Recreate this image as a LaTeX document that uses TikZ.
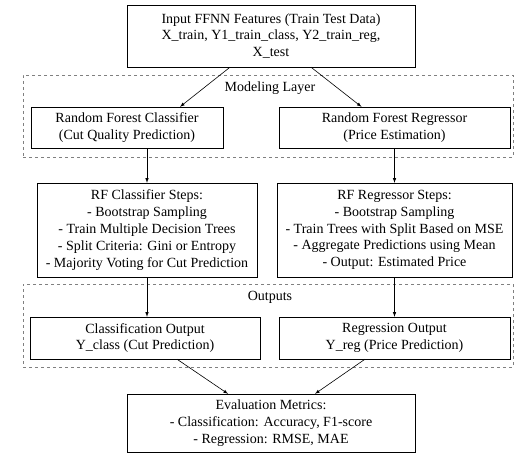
\documentclass[tikz,border=0pt]{standalone}
\usepackage{fontspec}
\setmainfont{Liberation Serif}
\usepackage{tikz}

\begin{document}
\begin{tikzpicture}[
        x=1pt, y=-1pt,
        box/.style={draw, rectangle, align=center, inner sep=0pt, font=\fontsize{14}{16.8}\selectfont},
        cluster/.style={draw, dashed, gray, rectangle, inner sep=0pt},
        lbl/.style={font=\fontsize{14}{16.8}\selectfont, inner sep=0pt},
        arrow/.style={-latex, semithick}
    ]
        \useasboundingbox (0,0) rectangle (518,454);

        % clusters
        \node[cluster, minimum width=490pt, minimum height=82pt] (modeling) at (268,116) {};
        \node[lbl] (modlabel) at (270,88) {Modeling Layer};
        \node[cluster, minimum width=490pt, minimum height=83pt] (outputs) at (268,325.5) {};
        \node[lbl] (outlabel) at (270,297) {Outputs};

        \node[box, minimum width=288pt, minimum height=62pt] (input) at (271,36)
            {Input FFNN Features (Train Test Data)\\X\_train, Y1\_train\_class, Y2\_train\_reg,\\X\_test};

        \node[box, minimum width=192pt, minimum height=41pt] (clf) at (127,127.5)
            {Random Forest Classifier\\(Cut Quality Prediction)};
        \node[box, minimum width=231pt, minimum height=41pt] (reg) at (394.5,127.5)
            {Random Forest Regressor\\(Price Estimation)};

        \node[box, minimum width=220pt, minimum height=94pt] (clsteps) at (147,230)
            {RF Classifier Steps:\\- Bootstrap Sampling\\- Train Multiple Decision Trees\\- Split Criteria: Gini or Entropy\\- Majority Voting for Cut Prediction};
        \node[box, minimum width=235pt, minimum height=94pt] (rgsteps) at (394.5,230)
            {RF Regressor Steps:\\- Bootstrap Sampling\\- Train Trees with Split Based on MSE\\- Aggregate Predictions using Mean\\- Output: Estimated Price};

        \node[box, minimum width=230pt, minimum height=42pt] (clout) at (145,338)
            {Classification Output\\Y\_class (Cut Prediction)};
        \node[box, minimum width=231pt, minimum height=42pt] (rgout) at (394.5,338)
            {Regression Output\\Y\_reg (Price Prediction)};

        \node[box, minimum width=288pt, minimum height=58pt] (eval) at (271,423)
            {Evaluation Metrics:\\- Classification: Accuracy, F1-score\\- Regression: RMSE, MAE};

        \draw[arrow] ([xshift=-41pt]input.south) -- ([xshift=53pt]clf.north);
        \draw[arrow] ([xshift=40pt]input.south) -- ([xshift=-33pt]reg.north);

        \draw[arrow] (clf.south -| clsteps.north) -- (clsteps.north);
        \draw[arrow] (reg.south) -- (rgsteps.north);

        \draw[arrow] (clsteps.south) -- (clsteps.south |- clout.north);
        \draw[arrow] (rgsteps.south) -- (rgout.north);

        \draw[arrow] ([xshift=32pt]clout.south) -- ([xshift=-43pt]eval.north);
        \draw[arrow] ([xshift=-29.5pt]rgout.south) -- ([xshift=44pt]eval.north);
    \end{tikzpicture}
\end{document}
